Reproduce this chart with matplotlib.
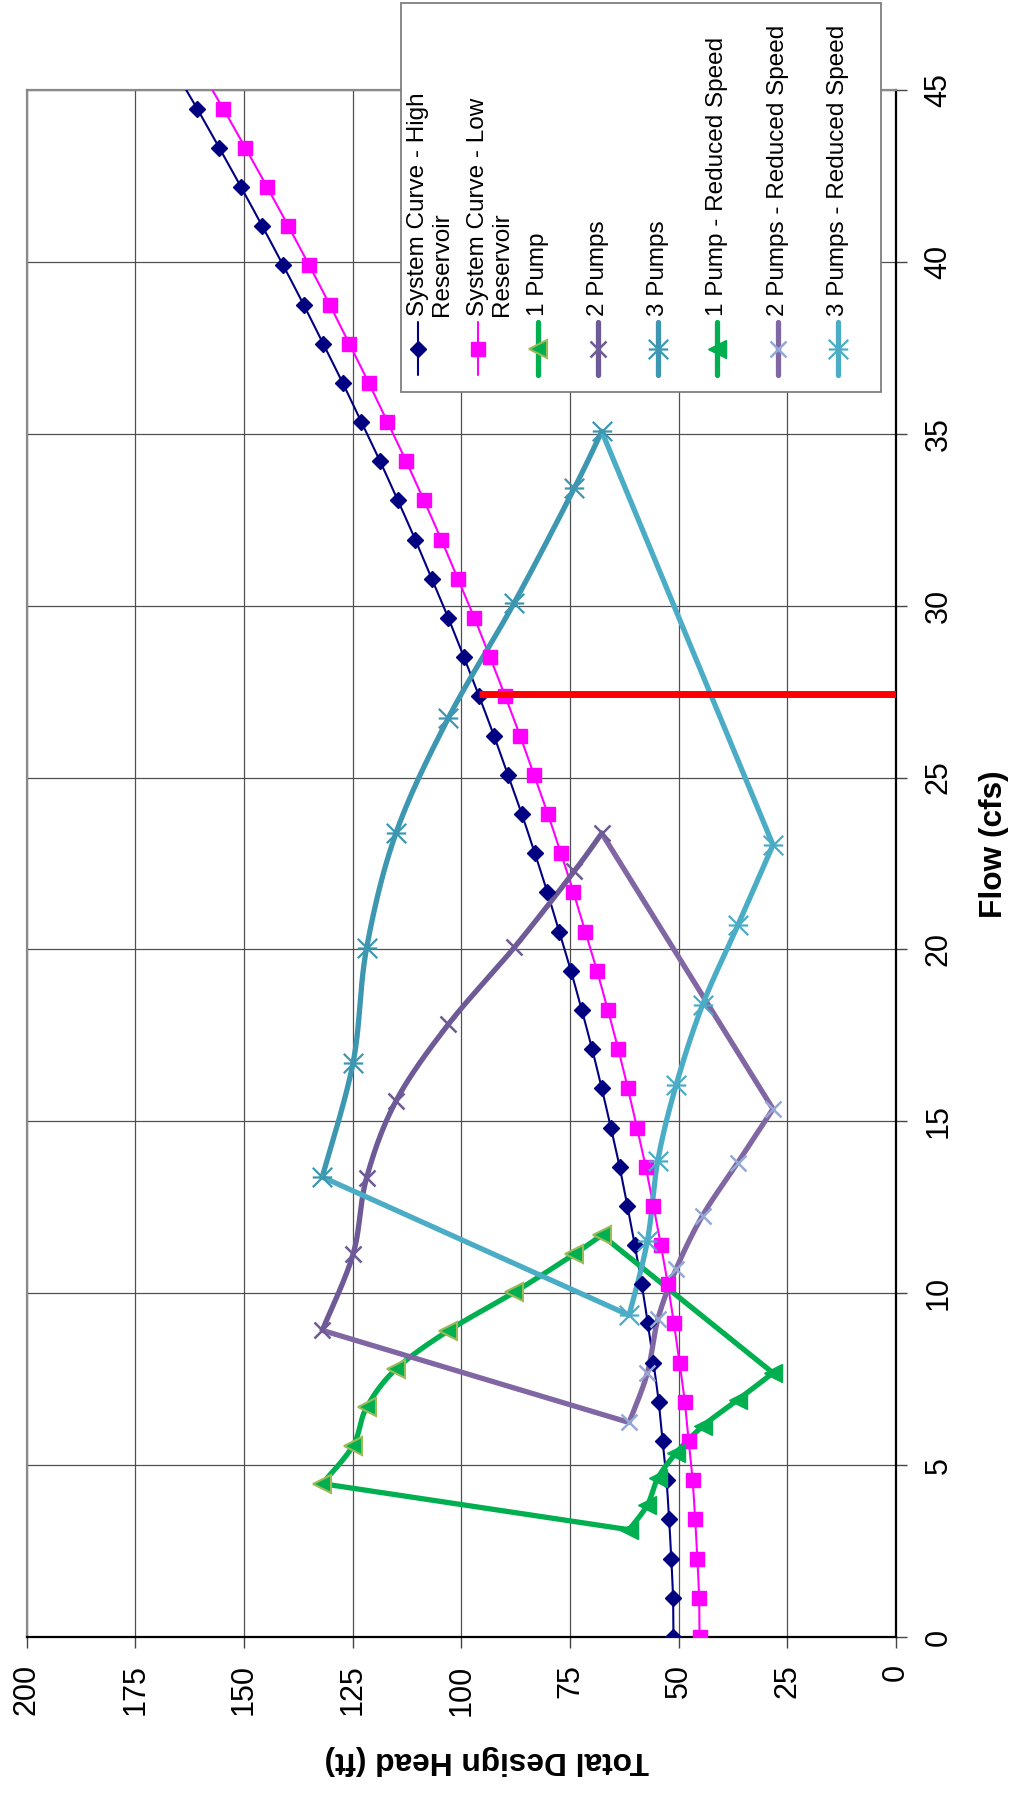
import numpy as np
import matplotlib
matplotlib.use("Agg")
import matplotlib.pyplot as plt
from matplotlib.path import Path
from matplotlib.patches import Rectangle

plt.rcParams['font.family'] = ['Liberation Sans', 'DejaVu Sans']

# ---------------------------------------------------------------- data
# System curves (flow in cfs, total design head in ft)
flow_sys = [0.00, 1.14, 2.28, 3.42, 4.56, 5.70, 6.84, 7.98, 9.12, 10.26,
            11.40, 12.54, 13.68, 14.82, 15.96, 17.10, 18.24, 19.38, 20.52, 21.66,
            22.80, 23.94, 25.08, 26.22, 27.36, 28.50, 29.64, 30.78, 31.92, 33.06,
            34.20, 35.34, 36.48, 37.62, 38.76, 39.90, 41.04, 42.18, 43.32, 44.46,
            45.60]
head_high = [51.2, 51.3, 51.7, 52.2, 52.8, 53.7, 54.6, 55.8, 57.1, 58.5,
             60.1, 61.8, 63.6, 65.6, 67.7, 69.9, 72.3, 74.8, 77.5, 80.2,
             83.1, 86.1, 89.3, 92.5, 95.9, 99.4, 103.0, 106.8, 110.6, 114.6,
             118.7, 123.0, 127.3, 131.8, 136.3, 141.0, 145.8, 150.7, 155.7, 160.8,
             166.1]
head_low = [45.2, 45.3, 45.7, 46.2, 46.8, 47.7, 48.6, 49.8, 51.1, 52.5,
            54.1, 55.8, 57.6, 59.6, 61.7, 63.9, 66.3, 68.8, 71.5, 74.2,
            77.1, 80.1, 83.3, 86.5, 89.9, 93.4, 97.0, 100.8, 104.6, 108.6,
            112.7, 117.0, 121.3, 125.8, 130.3, 135.0, 139.8, 144.7, 149.7, 154.8,
            160.1]

# Pump curves at full speed
pump_head = [132.0, 124.9, 121.8, 115.0, 103.0, 87.8, 74.0, 67.7]
pump1_flow = [4.46, 5.57, 6.68, 7.80, 8.91, 10.03, 11.14, 11.69]
pump2_flow = [8.92, 11.14, 13.36, 15.60, 17.82, 20.06, 22.28, 23.38]
pump3_flow = [13.38, 16.71, 20.04, 23.40, 26.73, 30.09, 33.42, 35.07]

# Pump curves at reduced speed
reduced_head = [61.4, 57.2, 54.8, 50.6, 44.5, 36.4, 28.3]
reduced1_flow = [3.12, 3.84, 4.62, 5.35, 6.13, 6.90, 7.68]
reduced2_flow = [6.24, 7.68, 9.24, 10.70, 12.26, 13.80, 15.36]
reduced3_flow = [9.36, 11.52, 13.86, 16.05, 18.39, 20.70, 23.04]

# Operating flow line
design_flow = 27.43
design_head = 96.0

head_ticks = [0, 25, 50, 75, 100, 125, 150, 175, 200]
flow_ticks = [0, 5, 10, 15, 20, 25, 30, 35, 40, 45]

legend_labels = ["System Curve - High\nReservoir", "System Curve - Low\nReservoir",
                 "1 Pump", "2 Pumps", "3 Pumps", "1 Pump - Reduced Speed",
                 "2 Pumps - Reduced Speed", "3 Pumps - Reduced Speed"]

# ---------------------------------------------------------------- layout
W, H, DPI = 1013, 1797, 100
AX_L, AX_R, AX_T, AX_B = 26.7, 896.0, 90.0, 1637.0
PX_X = (AX_R - AX_L) / 200.0
PX_Y = (AX_B - AX_T) / 45.0

fig = plt.figure(figsize=(W / DPI, H / DPI), dpi=DPI)
ax = fig.add_axes([AX_L / W, 1 - AX_B / H, (AX_R - AX_L) / W, (AX_B - AX_T) / H])
ax.set_xlim(200, 0)
ax.set_ylim(0, 45)


def smooth(heads, flows, n=24):
    """Bezier smoothing (Catmull-Rom style) computed in screen proportions."""
    p = np.column_stack([np.asarray(heads, float) * PX_X,
                         np.asarray(flows, float) * PX_Y])
    if len(p) < 3:
        return list(heads), list(flows)
    ext = np.vstack([p[0], p, p[-1]])
    out = [p[0]]
    t = np.linspace(0, 1, n)[1:][:, None]
    for i in range(1, len(ext) - 2):
        p0, p1, p2, p3 = ext[i - 1], ext[i], ext[i + 1], ext[i + 2]
        c1 = p1 + (p2 - p0) / 6.0
        c2 = p2 - (p3 - p1) / 6.0
        seg = ((1 - t) ** 3) * p1 + 3 * (1 - t) ** 2 * t * c1 + 3 * (1 - t) * t ** 2 * c2 + t ** 3 * p2
        out.extend(seg)
    out = np.array(out)
    return out[:, 0] / PX_X, out[:, 1] / PX_Y


# star marker (x with a cross bar)
star = Path([(-1, -1), (1, 1), (-1, 1), (1, -1), (-1, 0), (1, 0)],
            [Path.MOVETO, Path.LINETO, Path.MOVETO, Path.LINETO, Path.MOVETO, Path.LINETO])

NAVY, MAGENTA, GREEN = '#000080', '#FF00FF', '#00B050'
PURPLE, PURPLE_R = '#6E5A96', '#8066A2'
TEAL, TEAL_R = '#3D97B0', '#4BACC6'

styles = [
    dict(color=NAVY, lw=1.5, marker='D', ms=7.8, mfc=NAVY, mec=NAVY, mew=1),
    dict(color=MAGENTA, lw=1.5, marker='s', ms=10.5, mfc=MAGENTA, mec=MAGENTA, mew=1),
    dict(color=GREEN, lw=3.8, marker='<', ms=13.5, mfc=GREEN, mec='#9BBB59', mew=1.5),
    dict(color=PURPLE, lw=3.8, marker='x', ms=12, mfc='none', mec=PURPLE, mew=1.8),
    dict(color=TEAL, lw=3.8, marker=star, ms=14, mfc='none', mec=TEAL, mew=1.6),
    dict(color=GREEN, lw=3.8, marker='<', ms=13.5, mfc=GREEN, mec=GREEN, mew=1),
    dict(color=PURPLE_R, lw=3.8, marker='x', ms=12, mfc='none', mec='#95A9D4', mew=1.8),
    dict(color=TEAL_R, lw=3.8, marker=star, ms=14, mfc='none', mec=TEAL_R, mew=1.6),
]


def draw(hx, fy, st, line_h=None, line_f=None):
    lh, lf = (hx, fy) if line_h is None else (line_h, line_f)
    ax.plot(lh, lf, color=st['color'], lw=st['lw'], solid_joinstyle='round',
            solid_capstyle='round', zorder=3)
    ax.plot(hx, fy, ls='none', marker=st['marker'], ms=st['ms'], mfc=st['mfc'],
            mec=st['mec'], mew=st['mew'], zorder=4)


# system curves
for heads, st in ((head_high, styles[0]), (head_low, styles[1])):
    sh, sf = smooth(heads, flow_sys, n=6)
    draw(heads, flow_sys, st, sh, sf)

# full speed pump curves
for flows, st in ((pump1_flow, styles[2]), (pump2_flow, styles[3]), (pump3_flow, styles[4])):
    sh, sf = smooth(pump_head, flows)
    draw(pump_head, flows, st, sh, sf)

# reduced speed curves, joined to the ends of the full speed curves
for flows, full, st in ((reduced1_flow, pump1_flow, styles[5]),
                        (reduced2_flow, pump2_flow, styles[6]),
                        (reduced3_flow, pump3_flow, styles[7])):
    sh, sf = smooth(reduced_head, flows)
    lh = np.concatenate([[pump_head[0]], sh, [pump_head[-1]]])
    lf = np.concatenate([[full[0]], sf, [full[-1]]])
    draw(reduced_head, flows, st, lh, lf)

# operating flow line
ax.plot([0, design_head], [design_flow, design_flow], color='#FF0000', lw=5,
        solid_capstyle='butt', zorder=5)

# ---------------------------------------------------------------- axes styling
ax.set_xticks(head_ticks)
ax.set_yticks(flow_ticks)
ax.grid(True, color='#505050', lw=0.9)
ax.set_axisbelow(True)
ax.yaxis.tick_right()
ax.tick_params(axis='x', labelsize=22, length=7.7, width=1, color='#444444',
               direction='out', pad=12, labelrotation=90)
ax.tick_params(axis='y', labelsize=22, length=7.7, width=1, color='#444444',
               direction='out', pad=12, labelrotation=90, left=False, right=True)
for lab in ax.get_yticklabels():
    lab.set_ha('left')
    lab.set_va('center')
for side in ('left', 'top'):
    ax.spines[side].set_color('#8a8a8a')
    ax.spines[side].set_linewidth(1.6)
for side in ('bottom', 'right'):
    ax.spines[side].set_color('#000000')
    ax.spines[side].set_linewidth(1.6)

fig.text(994 / W, 1 - 844 / H, 'Flow (cfs)', rotation=90, ha='center', va='center',
         fontsize=22.8, fontweight='bold')
fig.text(487 / W, 1 - 1760 / H, 'Total Design Head (ft)', rotation=180, ha='center',
         va='center', fontsize=22.8, fontweight='bold')

# ---------------------------------------------------------------- legend
lax = fig.add_axes([0, 0, 1, 1], zorder=10)
lax.set_xlim(0, W)
lax.set_ylim(H, 0)
lax.axis('off')
lax.add_patch(Rectangle((401, 3), 480, 389, fc='white', ec='#7f7f7f', lw=1.3))
key_x = [418.3, 478.3, 537.7, 597.7, 657.7, 717.3, 777.7, 837.7]
for x, label, st in zip(key_x, legend_labels, styles):
    lax.plot([x, x], [322, 375], color=st['color'], lw=st['lw'], solid_capstyle='round')
    lax.plot([x], [348.5], ls='none', marker=st['marker'], ms=st['ms'], mfc=st['mfc'],
             mec=st['mec'], mew=st['mew'])
    for k, line in enumerate(label.split('\n')):
        lax.text(x + 24 * k, 316, line, rotation=90, rotation_mode='anchor',
                 ha='left', va='center', fontsize=17.5)

fig.savefig('out.png', dpi=DPI, facecolor='white')
